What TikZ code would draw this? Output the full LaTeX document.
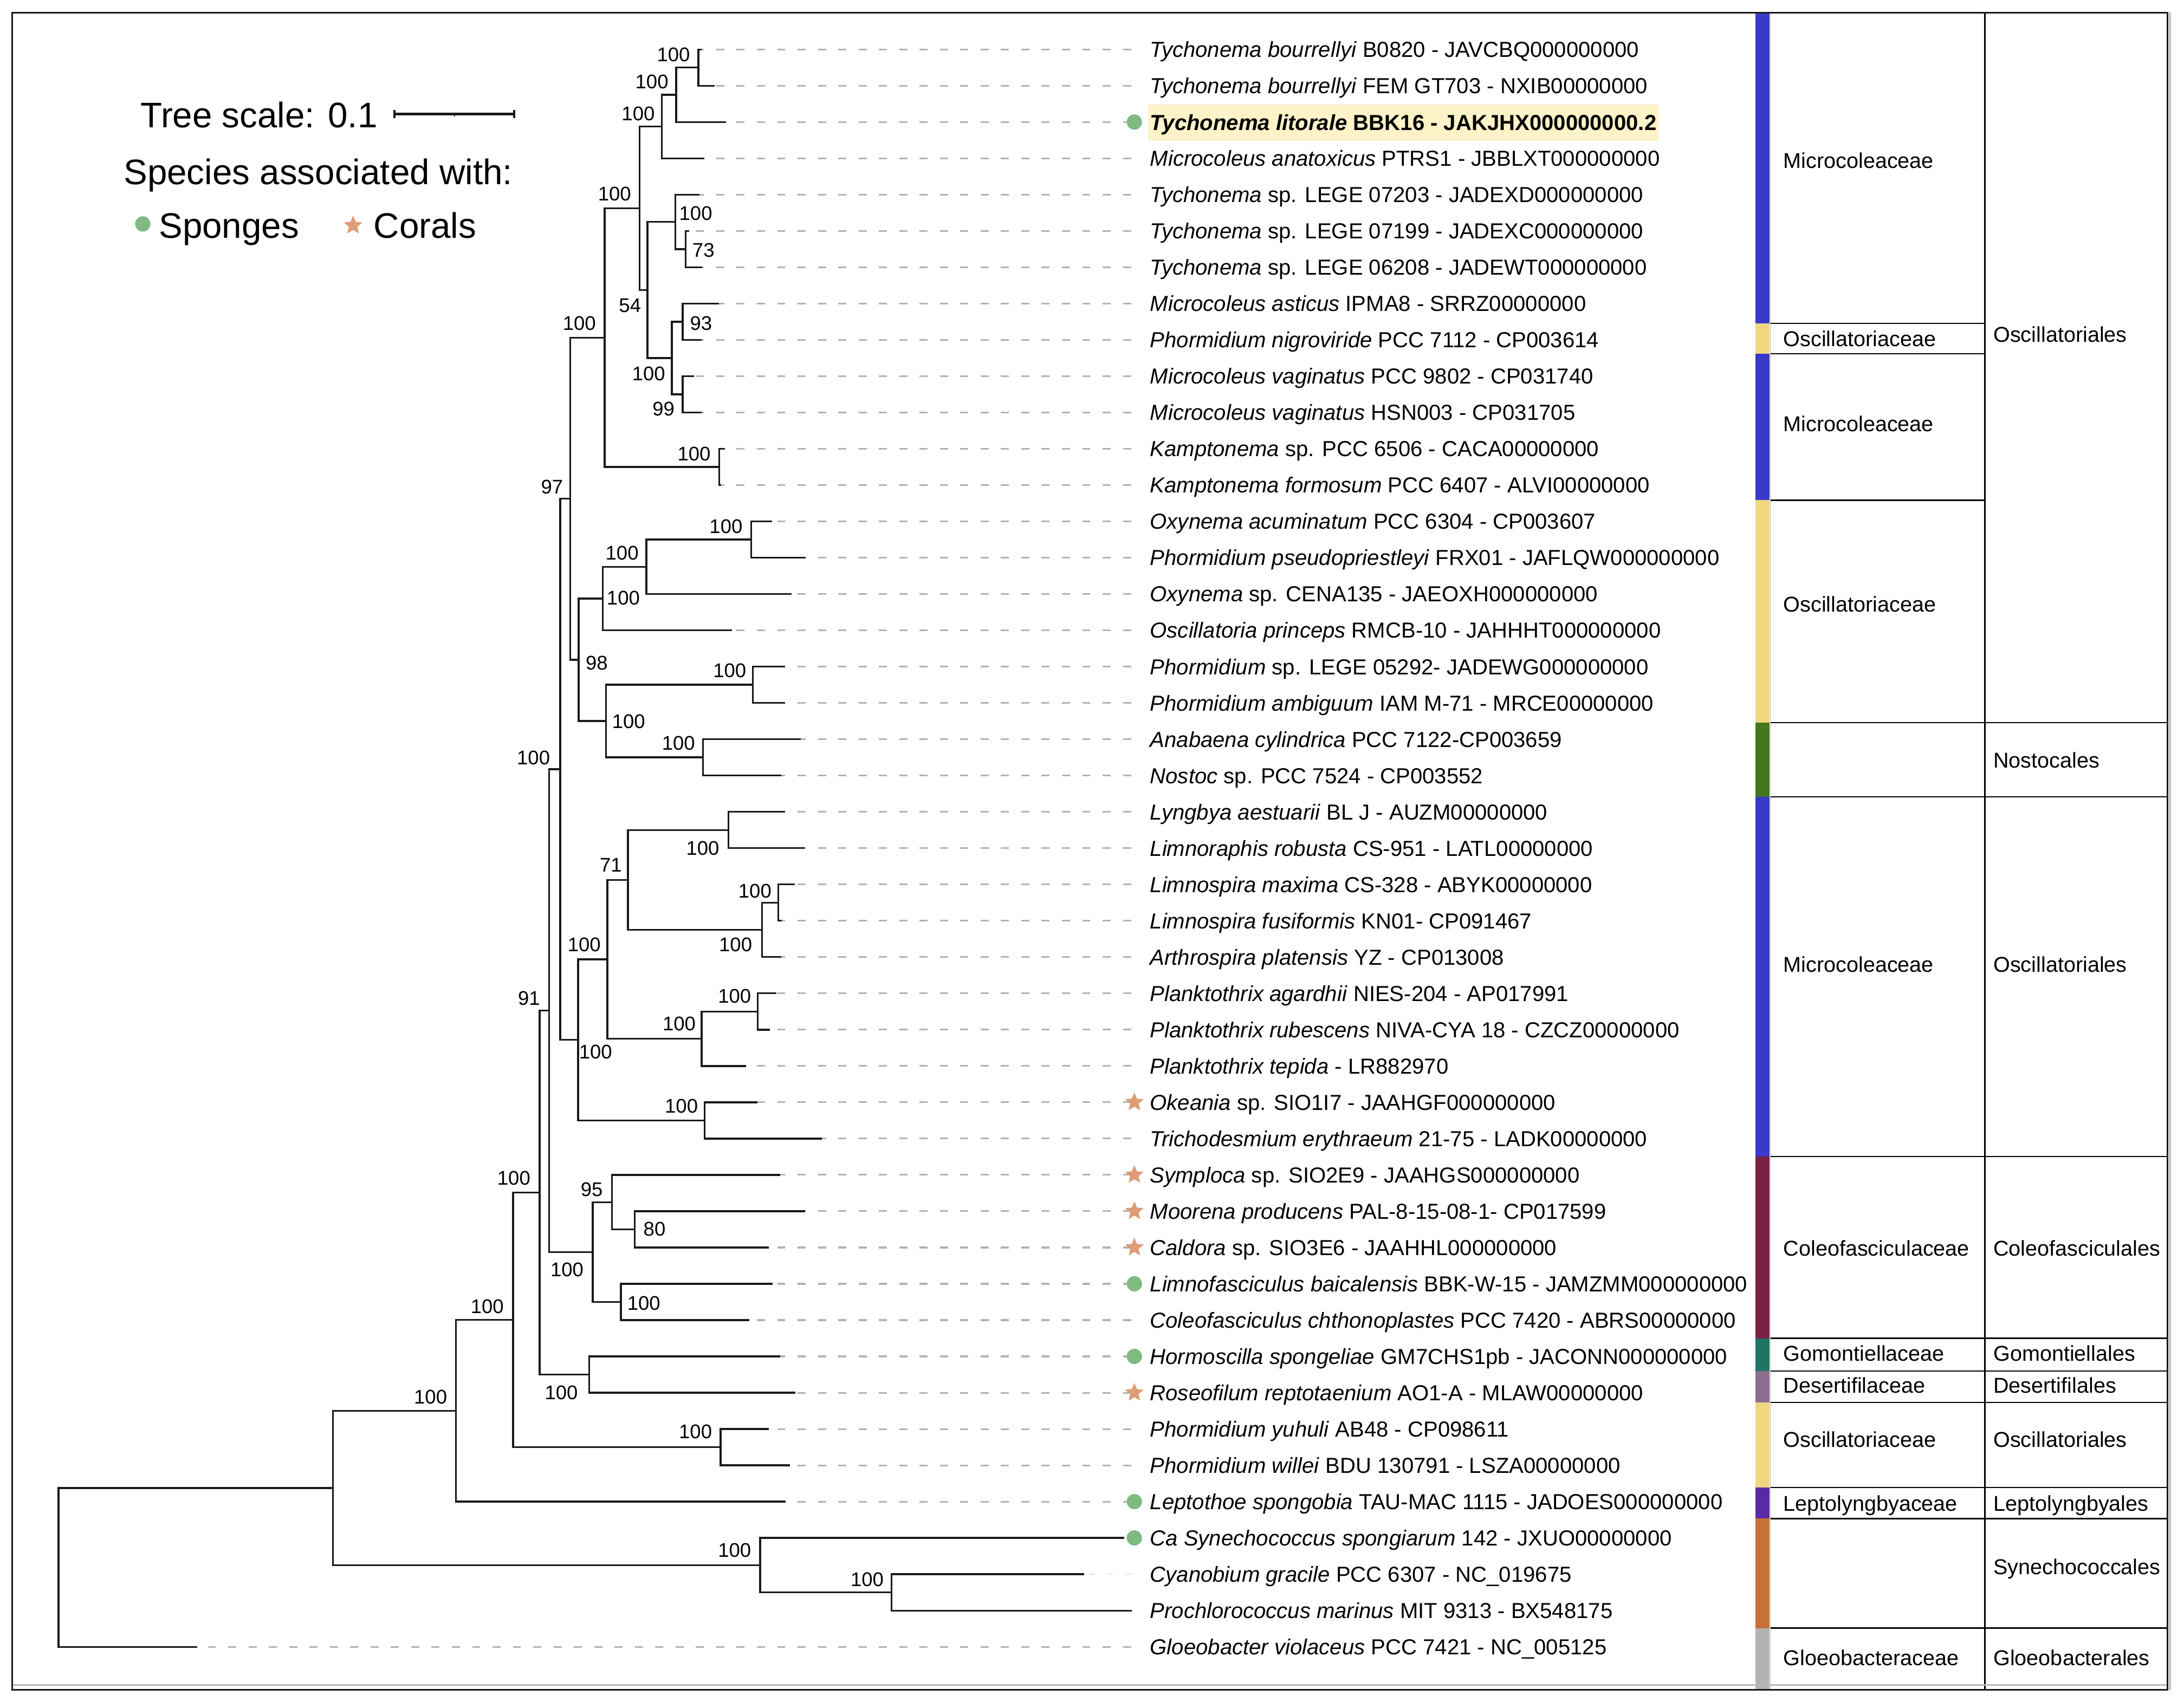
\documentclass[tikz,border=0pt]{standalone}
\usepackage{fontspec}
\setmainfont{Liberation Sans}
\usetikzlibrary{shapes.geometric}
\definecolor{dashgray}{RGB}{178,178,178}
\definecolor{lightdash}{RGB}{226,226,226}
\definecolor{sponge}{RGB}{126,186,130}
\definecolor{coral}{RGB}{221,156,118}
\definecolor{hl}{RGB}{253,242,200}
\definecolor{cblue}{RGB}{58,58,200}
\definecolor{cyellow}{RGB}{239,215,128}
\definecolor{cgreen}{RGB}{68,118,30}
\definecolor{cmaroon}{RGB}{122,32,66}
\definecolor{cteal}{RGB}{30,117,99}
\definecolor{cmauve}{RGB}{139,110,141}
\definecolor{cpurple}{RGB}{90,42,165}
\definecolor{corange}{RGB}{200,113,54}
\definecolor{cgray}{RGB}{179,179,179}
\tikzset{
  branch/.style={line width=1.3pt, black!90, line cap=rect},
  guide/.style={dashgray, line width=1.2pt, dash pattern=on 5.8pt off 8.8pt},
  leaflab/.style={anchor=west, inner sep=0pt, text height=11.2pt, text depth=0pt, font=\fontsize{15.6}{18}\selectfont},
  boot/.style={inner sep=0pt, text height=10.2pt, text depth=0pt, font=\fontsize{14.2}{16}\selectfont},
  taxlab/.style={anchor=west, inner sep=0pt, text height=11.1pt, text depth=0pt, font=\fontsize{15.4}{18}\selectfont},
  legtext/.style={anchor=base west, inner sep=0pt, font=\fontsize{25.5}{30}\selectfont},
  spongemark/.style={circle, fill=sponge, inner sep=0pt, minimum size=11pt},
  coralmark/.style={star, star points=5, star point ratio=2.2, fill=coral, inner sep=0pt, minimum size=14pt},
  tabline/.style={line width=0.9pt, black},
}
\begin{document}
\begin{tikzpicture}[x=1pt, y=-1pt]
\useasboundingbox (0,0) rectangle (1568,1222);
\fill[white] (0,0) rectangle (1568,1222);

% ---------- leaf coordinates ----------
\foreach \i/\e in {1/503, 2/512.4, 3/520.5, 4/505, 5/501.4, 6/494, 7/503.5, 8/515.4, 9/502.9, 10/497.6,
  11/502.9, 12/519.9, 13/516.9, 14/553.6, 15/577.6, 16/567.5, 17/524.8, 18/563, 19/563, 20/574.1,
  21/560.2, 22/563, 23/576.9, 24/570, 25/560.6, 26/560.2, 27/556.6, 28/552.2, 29/534.8, 30/543,
  31/589.4, 32/559.3, 33/577.4, 34/551.2, 35/553.9, 36/537.5, 37/559.3, 38/570.3, 39/551.2, 40/566.4,
  41/563.2, 42/806.5, 43/777.6, 44/812, 45/140.8} {
  \pgfmathsetmacro{\yy}{35.5+(\i-1)*26.07}
  \coordinate (e\i) at (\e,\yy);
  \coordinate (d\i) at (812,\yy);
}

% ---------- internal nodes ----------
\foreach \n/\x/\y in {n1/501.4/48.535, n2/485.4/68.09, n3/475.2/90.9, n4/459.2/149.555, n5/434.1/242.43,
  n6/464.8/208.21, n7/484.8/159.33, n8/492.2/178.885, n9/482.4/257.095, n10/490.1/231.025,
  n11/490.1/283.165, n12/516.3/335.305, n13/409.3/358.115, n14/415.4/473.8, n15/402.2/552.42,
  n16/432.8/429.81, n17/464/407.0, n18/539.4/387.445, n19/435.2/517.795, n20/540.4/491.725,
  n21/504.6/543.865, n23/436/688.88, n24/415/746.72, n25/450.8/631.85, n26/523.1/596.005,
  n27/547/667.7, n28/558.8/648.145, n29/503.7/745.91, n30/544.1/726.355, n31/505.9/804.565,
  n33/394.3/725.745, n34/425.6/899.07, n35/387.4/856.4, n36/368.4/947.8, n37/327.4/1013.05,
  n38/239/1068.49, n40/545.7/1123.92, n41/640.1/1143.475, n42/517.3/1039.195, n43/422.9/987.055,
  n44/439.3/863.22, n45/455.7/882.775, n46/445.8/934.915, root/42/1125.5}
  \coordinate (\n) at (\x,\y);

% ---------- guide dashes ----------
\foreach \i in {1,...,41,45} \draw[guide] (d\i) -- (e\i);
\draw[lightdash, line width=0.9pt, dash pattern=on 3.9pt off 9.1pt] (d43) -- (e43);

% ---------- table: colour strip ----------
\fill[cblue]   (1260.2,9.1)    rectangle (1270.6,232.2);
\fill[cyellow] (1260.2,232.2)  rectangle (1270.6,254);
\fill[cblue]   (1260.2,254)    rectangle (1270.6,359.2);
\fill[cyellow] (1260.2,359.2)  rectangle (1270.6,518.8);
\fill[cgreen]  (1260.2,518.8)  rectangle (1270.6,572.3);
\fill[cblue]   (1260.2,572.3)  rectangle (1270.6,830.6);
\fill[cmaroon] (1260.2,830.6)  rectangle (1270.6,961);
\fill[cteal]   (1260.2,961)    rectangle (1270.6,984.6);
\fill[cmauve]  (1260.2,984.6)  rectangle (1270.6,1007);
\fill[cyellow] (1260.2,1007)   rectangle (1270.6,1068.1);
\fill[cpurple] (1260.2,1068.1) rectangle (1270.6,1090.5);
\fill[corange] (1260.2,1090.5) rectangle (1270.6,1169.1);
\fill[cgray]   (1260.2,1169.1) rectangle (1270.6,1213);
\draw[gray!60, line width=0.7pt] (1271,9.1) -- (1271,1213);
\draw[tabline] (1425,9.1) -- (1425,1213);
\foreach \yy in {232.2,254,359.2} \draw[tabline] (1271,\yy) -- (1425,\yy);
\foreach \yy in {518.8,572.3,830.6,961,984.6,1007,1068.1,1090.5,1169.1} \draw[tabline] (1271,\yy) -- (1556,\yy);

\foreach \yy/\t [count=\k] in {115.1/Microcoleaceae, 243.3/Oscillatoriaceae, 304.4/Microcoleaceae,
  433.8/Oscillatoriaceae, 692.6/Microcoleaceae, 896.2/Coleofasciculaceae, 971.6/Gomontiellaceae,
  994.8/Desertifilaceae, 1033.5/Oscillatoriaceae, 1079.5/Leptolyngbyaceae, 1190.3/Gloeobacteraceae}
  \node[taxlab] (fam\k) at (1280.2,\yy) {\t};
\foreach \yy/\t [count=\k] in {240.1/Oscillatoriales, 545.7/Nostocales, 692.6/Oscillatoriales,
  896.2/Coleofasciculales, 971.6/Gomontiellales, 994.8/Desertifilales, 1033.5/Oscillatoriales,
  1079.5/Leptolyngbyales, 1125.1/Synechococcales, 1190.3/Gloeobacterales}
  \node[taxlab] (ord\k) at (1431,\yy) {\t};

% ---------- frame ----------
\draw[gray!55, line width=1pt] (8.7,1210) -- (1556,1210);
\draw[gray!50, line width=1.5pt] (1557.8,9.1) -- (1557.8,1213.5);
\draw[line width=1.2pt, black!90] (8.7,9.1) rectangle (1556,1213.5);

% ---------- tree branches ----------
\foreach \p/\c in {n1/e1, n1/e2, n2/n1, n2/e3, n3/n2, n3/e4, n4/n3, n4/n6, n6/n7, n6/n9,
  n7/e5, n7/n8, n8/e6, n8/e7, n9/n10, n9/n11, n10/e8, n10/e9, n11/e10, n11/e11,
  n5/n4, n5/n12, n12/e12, n12/e13, n13/n5, n13/n14, n14/n16, n14/n19, n16/n17, n16/e17,
  n17/n18, n17/e16, n18/e14, n18/e15, n19/n20, n19/n21, n20/e18, n20/e19, n21/e20, n21/e21,
  n15/n13, n15/n24, n24/n23, n24/n31, n23/n25, n23/n29, n25/n26, n25/n27, n26/e22, n26/e23,
  n27/n28, n27/e26, n28/e24, n28/e25, n29/n30, n29/e29, n30/e27, n30/e28, n31/e30, n31/e31,
  n33/n15, n33/n34, n34/n44, n34/n46, n44/e32, n44/n45, n45/e33, n45/e34, n46/e35, n46/e36,
  n35/n33, n35/n43, n43/e37, n43/e38, n36/n35, n36/n42, n42/e39, n42/e40, n37/n36, n37/e41,
  n38/n37, n38/n40, n40/e42, n40/n41, n41/e43, n41/e44, root/n38, root/e45}
  \draw[branch] (\p) |- (\c);

% ---------- bootstrap values ----------
\foreach \x/\y/\t [count=\k] in {483.5/38.9/100, 468/58.5/100, 458.2/81.3/100, 441.2/139/100,
  415.9/232/100, 499.5/153/100, 505/179.6/73, 452.3/219/54, 503.3/232/93, 465.7/268.2/100,
  476.4/293.4/99, 498.3/325.7/100, 396.3/349.5/97, 521.2/377.7/100, 446.6/397/100,
  447.5/429.3/100, 428.4/475.7/98, 523.9/481.5/100, 451.3/518/100, 487.1/533.5/100,
  383/544/100, 504.5/609/100, 438.5/620.9/71, 542/639.5/100, 528.1/678/100, 419.4/678/100,
  379.8/716.7/91, 527.4/715.1/100, 487.6/735.1/100, 427.6/755/100, 489.2/794.2/100,
  368.9/845.9/100, 424.8/853.9/95, 469.9/882.5/80, 407.1/911.5/100, 462.2/935.5/100,
  349.8/938.1/100, 403/999.7/100, 499.3/1028/100, 309.1/1003/100, 527.4/1112.9/100,
  622.6/1133.9/100}
  \node[boot] (bs\k) at (\x,\y) {\t};

% ---------- markers ----------
\foreach \i in {3,35,37,41,42} \node[spongemark] (m\i) at (814.4,{35.5+(\i-1)*26.07}) {};
\foreach \i in {30,32,33,34,38} \node[coralmark] (m\i) at (814.4,{35.5+(\i-1)*26.07}) {};

% ---------- leaf labels ----------
\node[leaflab, fill=hl, inner xsep=1.6pt, inner ysep=7.3pt] (t3) at (823.9,88.1)
  {\bfseries\itshape Tychonema litorale\upshape\ BBK16 - JAKJHX000000000.2};
\foreach \i/\t in {
  1/{\textit{Tychonema bourrellyi} B0820 - JAVCBQ000000000},
  2/{\textit{Tychonema bourrellyi} FEM GT703 - NXIB00000000},
  4/{\textit{Microcoleus anatoxicus} PTRS1 - JBBLXT000000000},
  5/{\textit{Tychonema} sp. LEGE 07203 - JADEXD000000000},
  6/{\textit{Tychonema} sp. LEGE 07199 - JADEXC000000000},
  7/{\textit{Tychonema} sp. LEGE 06208 - JADEWT000000000},
  8/{\textit{Microcoleus asticus} IPMA8 - SRRZ00000000},
  9/{\textit{Phormidium nigroviride} PCC 7112 - CP003614},
  10/{\textit{Microcoleus vaginatus} PCC 9802 - CP031740},
  11/{\textit{Microcoleus vaginatus} HSN003 - CP031705},
  12/{\textit{Kamptonema} sp. PCC 6506 - CACA00000000},
  13/{\textit{Kamptonema formosum} PCC 6407 - ALVI00000000},
  14/{\textit{Oxynema acuminatum} PCC 6304 - CP003607},
  15/{\textit{Phormidium pseudopriestleyi} FRX01 - JAFLQW000000000},
  16/{\textit{Oxynema} sp. CENA135 - JAEOXH000000000},
  17/{\textit{Oscillatoria princeps} RMCB-10 - JAHHHT000000000},
  18/{\textit{Phormidium} sp. LEGE 05292- JADEWG000000000},
  19/{\textit{Phormidium ambiguum} IAM M-71 - MRCE00000000},
  20/{\textit{Anabaena cylindrica} PCC 7122-CP003659},
  21/{\textit{Nostoc} sp. PCC 7524 - CP003552},
  22/{\textit{Lyngbya aestuarii} BL J - AUZM00000000},
  23/{\textit{Limnoraphis robusta} CS-951 - LATL00000000},
  24/{\textit{Limnospira maxima} CS-328 - ABYK00000000},
  25/{\textit{Limnospira fusiformis} KN01- CP091467},
  26/{\textit{Arthrospira platensis} YZ - CP013008},
  27/{\textit{Planktothrix agardhii} NIES-204 - AP017991},
  28/{\textit{Planktothrix rubescens} NIVA-CYA 18 - CZCZ00000000},
  29/{\textit{Planktothrix tepida} - LR882970},
  30/{\textit{Okeania} sp. SIO1I7 - JAAHGF000000000},
  31/{\textit{Trichodesmium erythraeum} 21-75 - LADK00000000},
  32/{\textit{Symploca} sp. SIO2E9 - JAAHGS000000000},
  33/{\textit{Moorena producens} PAL-8-15-08-1- CP017599},
  34/{\textit{Caldora} sp. SIO3E6 - JAAHHL000000000},
  35/{\textit{Limnofasciculus baicalensis} BBK-W-15 - JAMZMM000000000},
  36/{\textit{Coleofasciculus chthonoplastes} PCC 7420 - ABRS00000000},
  37/{\textit{Hormoscilla spongeliae} GM7CHS1pb - JACONN000000000},
  38/{\textit{Roseofilum reptotaenium} AO1-A - MLAW00000000},
  39/{\textit{Phormidium yuhuli} AB48 - CP098611},
  40/{\textit{Phormidium willei} BDU 130791 - LSZA00000000},
  41/{\textit{Leptothoe spongobia} TAU-MAC 1115 - JADOES000000000},
  42/{\textit{Ca Synechococcus spongiarum} 142 - JXUO00000000},
  43/{\textit{Cyanobium gracile} PCC 6307 - NC\_019675},
  44/{\textit{Prochlorococcus marinus} MIT 9313 - BX548175},
  45/{\textit{Gloeobacter violaceus} PCC 7421 - NC\_005125}}
  \node[leaflab] (t\i) at (825.5,{35.5+(\i-1)*26.07}) {\t};

% ---------- legend ----------
\node[legtext] (tscale) at (100.7,91.5) {Tree scale: 0.1};
\coordinate (sb1) at (283.3,81.9);
\coordinate (sb2) at (369.2,81.9);
\coordinate (sbm) at (326.3,81.9);
\draw[line width=1.6pt, black!90] (sb1) -- (sb2);
\draw[line width=1.6pt, black!90] ([yshift=-2.8pt]sb1) -- ([yshift=2.8pt]sb1);
\draw[line width=1.6pt, black!90] ([yshift=-2.8pt]sb2) -- ([yshift=2.8pt]sb2);
\draw[line width=1pt, black!90] (sbm) -- ([yshift=-1.8pt]sbm);
\node[legtext] (spec) at (88.6,132.6) {Species associated with:};
\node[spongemark] (lgs) at (102.5,160.8) {};
\node[legtext] (lgst) at (113.9,171) {Sponges};
\node[coralmark] (lgc) at (253.5,161.9) {};
\node[legtext] (lgct) at (268.1,171) {Corals};
\end{tikzpicture}
\end{document}
